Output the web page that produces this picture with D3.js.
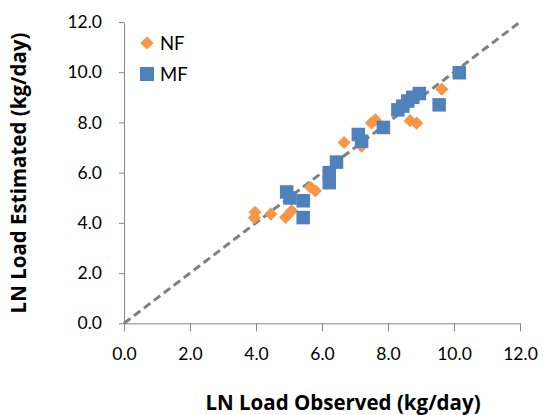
<!DOCTYPE html>
<html>
<head>
<meta charset="utf-8">
<script src="https://cdn.jsdelivr.net/npm/d3@7/dist/d3.min.js"></script>
<style>
  html, body { margin: 0; padding: 0; background: #fff; }
  svg { display: block; }
  .tick text { font-family: Lato, "Open Sans", sans-serif; font-size: 17.5px; fill: #000; }
  .axis path, .axis line { stroke: #868686; stroke-width: 1; }
  .title { font-family: "Open Sans", Lato, sans-serif; font-size: 20.5px; font-weight: bold; fill: #000; }
</style>
</head>
<body>
<svg id="chart" width="543" height="415"></svg>
<script>
// Observed vs estimated LN load, kg/day
const nfObserved  = [3.97, 3.95, 4.45, 4.90, 5.08, 5.65, 5.80, 6.67, 7.20, 7.50, 7.62, 8.67, 8.87, 9.63];
const nfEstimated = [4.42, 4.20, 4.35, 4.22, 4.48, 5.42, 5.28, 7.20, 7.05, 7.98, 8.10, 8.07, 7.97, 9.32];

const mfObserved  = [4.93, 5.03, 5.43, 5.43, 6.22, 6.22, 6.44, 7.10, 7.20, 7.86, 8.30, 8.45, 8.60, 8.75, 8.95, 9.55, 10.16];
const mfEstimated = [5.23, 4.99, 4.88, 4.21, 6.00, 5.60, 6.42, 7.52, 7.25, 7.80, 8.50, 8.65, 8.85, 9.00, 9.15, 8.70, 9.98];

const axisTicks = [0, 2, 4, 6, 8, 10, 12];
const seriesNames = ["NF", "MF"];
const xTitle = "LN Load Observed (kg/day)";
const yTitle = "LN Load Estimated (kg/day)";

const svg = d3.select("#chart");
const x = d3.scaleLinear().domain([0, 12]).range([124, 520]);
const y = d3.scaleLinear().domain([0, 12]).range([323.3, 22]);
const fmt = d3.format(".1f");

// axes
svg.append("g").attr("class", "axis")
  .attr("transform", `translate(0,${y(0)})`)
  .call(d3.axisBottom(x).tickValues(axisTicks).tickFormat(fmt)
        .tickSizeInner(8).tickSizeOuter(0).tickPadding(16));

svg.append("g").attr("class", "axis")
  .attr("transform", `translate(${x(0)},0)`)
  .call(d3.axisLeft(y).tickValues(axisTicks).tickFormat(fmt)
        .tickSizeInner(5).tickSizeOuter(0).tickPadding(17));

// 1:1 reference line
svg.append("line")
  .attr("x1", x(0)).attr("y1", y(0))
  .attr("x2", x(12)).attr("y2", y(12))
  .attr("stroke", "#808080").attr("stroke-width", 3)
  .attr("stroke-dasharray", "8,4.5");

const colors = { NF: "#F79646", MF: "#4F81BD" };
const diamond = d3.symbol().type(d3.symbolDiamond2).size(110);
const square = 13.5;

// NF series (diamonds)
svg.append("g").selectAll("path")
  .data(d3.zip(nfObserved, nfEstimated))
  .join("path")
  .attr("d", diamond)
  .attr("transform", d => `translate(${x(d[0])},${y(d[1])})`)
  .attr("fill", colors.NF);

// MF series (squares)
svg.append("g").selectAll("rect")
  .data(d3.zip(mfObserved, mfEstimated))
  .join("rect")
  .attr("x", d => x(d[0]) - square / 2)
  .attr("y", d => y(d[1]) - square / 2)
  .attr("width", square).attr("height", square)
  .attr("fill", colors.MF);

// legend
const legend = svg.append("g").attr("transform", "translate(147,43)");
seriesNames.forEach((name, i) => {
  const g = legend.append("g").attr("transform", `translate(0,${i * 31})`);
  if (name === "NF") {
    g.append("path").attr("d", diamond).attr("fill", colors.NF);
  } else {
    g.append("rect").attr("x", -7).attr("y", -7).attr("width", 14).attr("height", 14)
      .attr("fill", colors.MF);
  }
  g.append("text").attr("x", 13).attr("dy", "0.36em")
    .style("font-family", "Lato, 'Open Sans', sans-serif").style("font-size", "18.5px")
    .text(name);
});

// axis titles
svg.append("text").attr("class", "title")
  .attr("x", 343).attr("y", 410)
  .attr("text-anchor", "middle")
  .text(xTitle);

svg.append("text").attr("class", "title")
  .attr("transform", "translate(26,173) rotate(-90)")
  .attr("text-anchor", "middle")
  .text(yTitle);
</script>
</body>
</html>
